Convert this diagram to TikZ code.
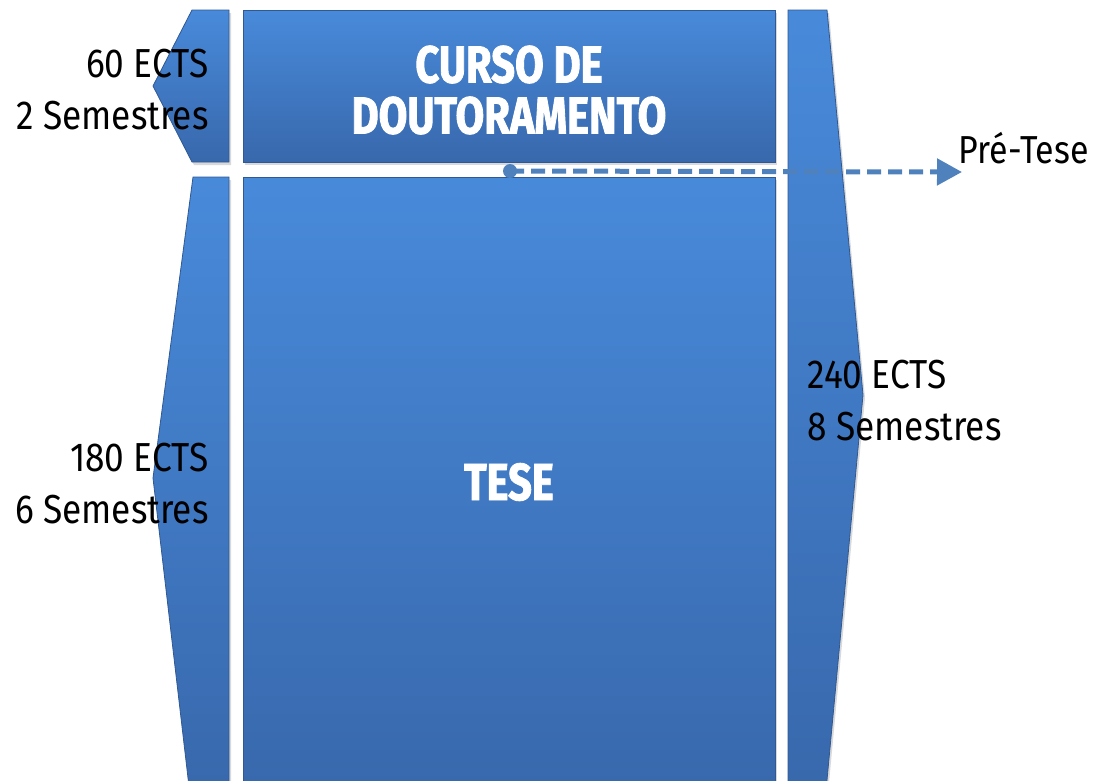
\documentclass[tikz,border=0pt]{standalone}
\usepackage{fontspec}
\usepackage{tikz}
\usetikzlibrary{shadows, arrows.meta}
\newfontfamily\sidefont[FakeStretch=0.87]{Fira Sans}
\newfontfamily\titlefont[FakeStretch=0.8, BoldFeatures={FakeBold=1.6}]{Fira Sans}
\definecolor{blockTop}{RGB}{72,138,218}
\definecolor{blockBot}{RGB}{56,104,172}
\definecolor{arrowBlue}{RGB}{79,129,189}

\tikzset{
  block/.style={top color=blockTop, bottom color=blockBot, draw=blockBot!85!black,
    line width=0.8pt, drop shadow={opacity=0.3, shadow xshift=2pt, shadow yshift=-3pt}},
  boxtitle/.style={text=white, align=center, font=\titlefont\bfseries\fontsize{52}{51}\selectfont},
  sidelabel/.style={align=right, font=\sidefont\fontsize{40.5}{52}\selectfont},
}

\begin{document}
\begin{tikzpicture}[x=1pt, y=-1pt]
	\useasboundingbox (0,0) rectangle (1094,780);
	% side arrows
	\draw[block] (192,10) -- (229,10) -- (229,162) -- (192,162) -- (153,86) -- cycle;
	\draw[block] (193,177) -- (229,177) -- (229,795) -- (190,795) -- (153,478) -- cycle;
	\draw[block] (788,10) -- (827,10) -- (863,395) -- (827,780) -- (827,795) -- (788,795) -- cycle;
	% main blocks
	\node[block, minimum width=532pt, minimum height=152pt] (curso) at (509,86) {};
	\node[boxtitle] (cursoText) at (509,90) {CURSO DE\\DOUTORAMENTO};
	\node[block, minimum width=532pt, minimum height=618pt, anchor=north] (tese) at (509,177) {};
	\node[boxtitle] (teseText) at (509,482) {TESE};
	% labels
	\node[sidelabel, anchor=east] (ectsA) at (212,90) {60 ECTS\\2 Semestres};
	\node[sidelabel, anchor=east] (ectsB) at (212,484) {180 ECTS\\6 Semestres};
	\node[sidelabel, anchor=west, align=left] (ectsC) at (804,401) {240 ECTS\\8 Semestres};
	\node[font=\sidefont\fontsize{39}{42}\selectfont, anchor=west] (preTese) at (955,148) {Pré-Tese};
	% pre-tese arrow
	\coordinate (dotStart) at (510,171);
	\coordinate (arrEnd) at (962,172);
	\draw[arrowBlue, line width=5pt, dash pattern=on 14pt off 7pt, -{Triangle[length=25pt,width=26pt]}]
		(dotStart) -- (arrEnd);
	\fill[arrowBlue] (dotStart) circle (7);
\end{tikzpicture}
\end{document}
